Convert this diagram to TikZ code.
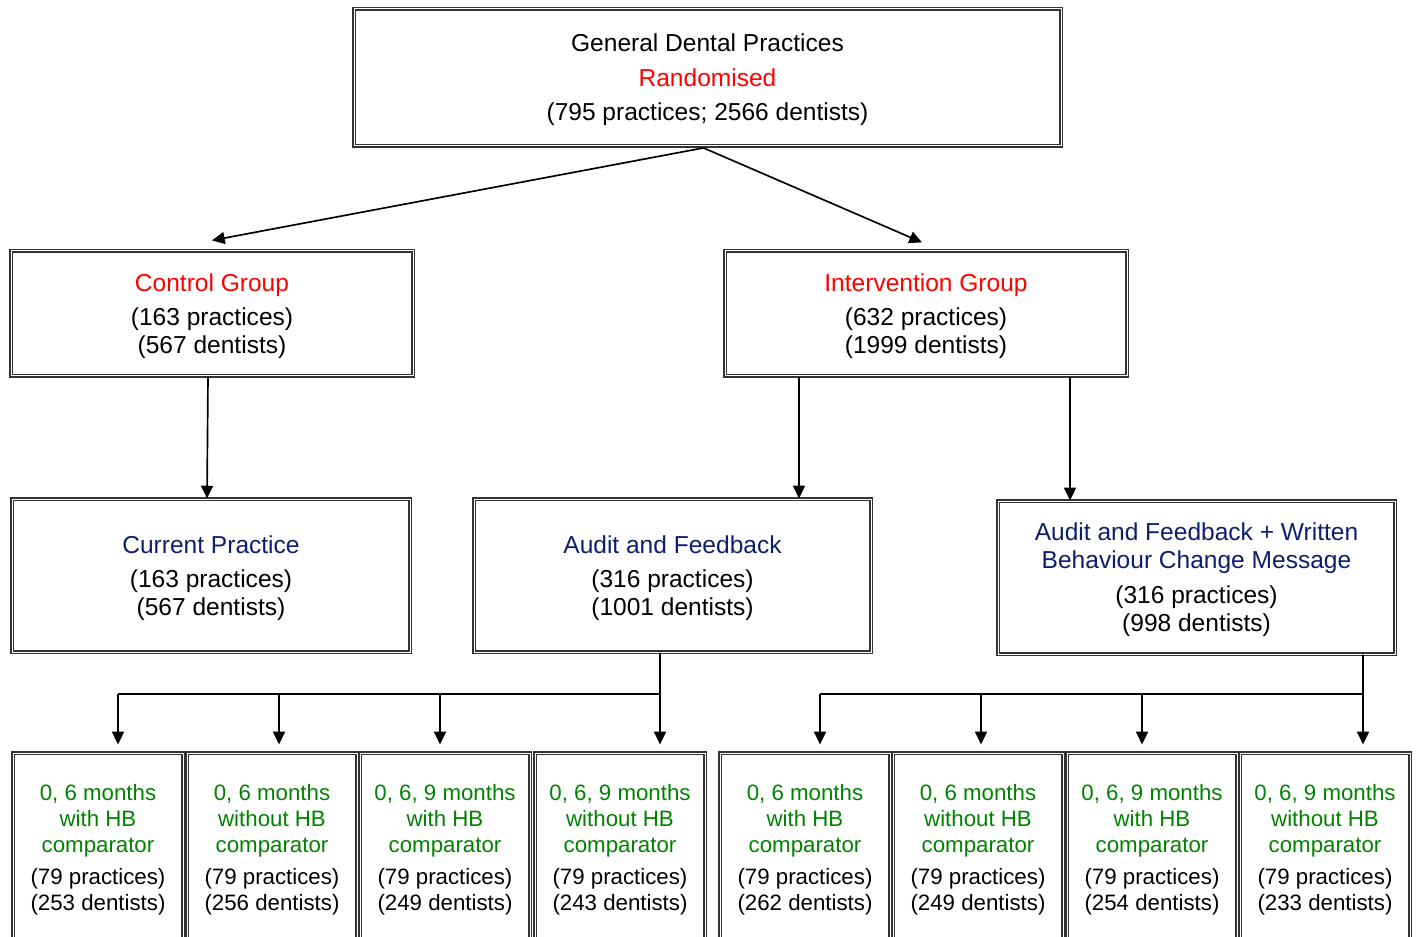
\documentclass[tikz,border=0pt]{standalone}
\usepackage{fontspec}
\setmainfont{Liberation Sans}
\usetikzlibrary{arrows.meta}
\definecolor{navy}{RGB}{12,30,110}
\definecolor{grn}{RGB}{0,130,0}
\definecolor{rd}{RGB}{255,0,0}
\newcommand\bigup{\rule{0pt}{17pt}}
\newcommand\smallup{\rule{0pt}{15.5pt}}
\begin{document}
\begin{tikzpicture}[x=0.75pt,y=-0.75pt,
  box/.style={draw=black!80,line width=0.9pt,double=white,double distance=0.75pt,inner sep=0pt,align=center},
  bigtxt/.style={font=\fontsize{18.4}{21}\selectfont},
  smalltxt/.style={font=\fontsize{16.7}{19.5}\selectfont},
  arr/.style={line width=1.25pt,-{Triangle[length=9.5pt,width=9pt]}},
  ln/.style={line width=1.25pt}]
\useasboundingbox (0,0) rectangle (1416,937);
\clip (0,0) rectangle (1416,937);

\node[box,bigtxt,minimum width=530.25pt,minimum height=102.75pt,font=\fontsize{18.4}{26}\selectfont] (top) at (707.5,77.5)
  {\bigup General Dental Practices\\\textcolor{rd}{Randomised}\\(795 practices; 2566 dentists)};

\node[box,bigtxt,minimum width=301.5pt,minimum height=93.75pt] (ctrl) at (212,313.5)
  {\bigup\textcolor{rd}{Control Group}\\[4.5pt](163 practices)\\(567 dentists)};
\node[box,bigtxt,minimum width=301.5pt,minimum height=93.75pt] (int) at (926,313.5)
  {\bigup\textcolor{rd}{Intervention Group}\\[4.5pt](632 practices)\\(1999 dentists)};

\node[box,bigtxt,minimum width=298.5pt,minimum height=114.75pt] (cur) at (211,575.5)
  {\bigup\textcolor{navy}{Current Practice}\\[4.5pt](163 practices)\\(567 dentists)};
\node[box,bigtxt,minimum width=297.75pt,minimum height=114.75pt] (af) at (672.5,575.5)
  {\bigup\textcolor{navy}{Audit and Feedback}\\[4.5pt](316 practices)\\(1001 dentists)};
\node[box,bigtxt,minimum width=297.75pt,minimum height=114.75pt] (afw) at (1196.5,577.5)
  {\bigup\textcolor{navy}{Audit and Feedback + Written}\\\textcolor{navy}{Behaviour Change Message}\\[5pt](316 practices)\\(998 dentists)};

\foreach \n/\x/\a/\b/\p/\d in {
  b1/98/{0, 6 months}/{with HB}/79/253,
  b2/272/{0, 6 months}/{without HB}/79/256,
  b3/445/{0, 6, 9 months}/{with HB}/79/249,
  b4/620/{0, 6, 9 months}/{without HB}/79/243,
  b5/805/{0, 6 months}/{with HB}/79/262,
  b6/978/{0, 6 months}/{without HB}/79/249,
  b7/1152/{0, 6, 9 months}/{with HB}/79/254,
  b8/1325/{0, 6, 9 months}/{without HB}/79/233}
{
  \node[box,smalltxt,minimum width=127.5pt,minimum height=141pt] (\n) at (\x,847)
    {\smallup\textcolor{grn}{\a}\\\textcolor{grn}{\b}\\\textcolor{grn}{comparator}\\[4.5pt](\p\ practices)\\(\d\ dentists)};
}

% top level arrows
\draw[arr] ([xshift=-3pt,yshift=-1pt]top.south) -- ([yshift=7.5pt]ctrl.north);
\draw[arr] ([xshift=-3pt,yshift=-1pt]top.south) -- ([xshift=-3pt,yshift=6pt]int.north);

% second level
\draw[arr] ([xshift=-3pt]ctrl.south) -- ([xshift=-3pt]cur.north);
\draw[arr] ([xshift=-95.25pt]int.south) -- ([xshift=-95.25pt]int.south |- af.north);
\draw[arr] ([xshift=108pt]int.south) -- ([xshift=108pt]int.south |- afw.north);

% left branch
\coordinate (jA) at (660,694);
\coordinate (lA) at (118,694);
\draw[ln] ([xshift=-9.4pt]af.south) -- (jA) -- (lA);
\draw[arr] ([xshift=15pt]b1.north |- jA) -- ([xshift=15pt,yshift=6pt]b1.north);
\draw[arr] ([xshift=5.25pt]b2.north |- jA) -- ([xshift=5.25pt,yshift=6pt]b2.north);
\draw[arr] ([xshift=-3.75pt]b3.north |- jA) -- ([xshift=-3.75pt,yshift=6pt]b3.north);
\draw[arr] (jA) -- ([xshift=30pt,yshift=6pt]b4.north);

% right branch
\coordinate (jB) at (1363,694);
\coordinate (lB) at (820,694);
\draw[ln] ([xshift=124.9pt]afw.south) -- (jB) -- (lB);
\draw[arr] ([xshift=11.25pt]b5.north |- jB) -- ([xshift=11.25pt,yshift=6pt]b5.north);
\draw[arr] ([xshift=2.25pt]b6.north |- jB) -- ([xshift=2.25pt,yshift=6pt]b6.north);
\draw[arr] ([xshift=-7.5pt]b7.north |- jB) -- ([xshift=-7.5pt,yshift=6pt]b7.north);
\draw[arr] (jB) -- ([xshift=28.5pt,yshift=6pt]b8.north);
\end{tikzpicture}
\end{document}
